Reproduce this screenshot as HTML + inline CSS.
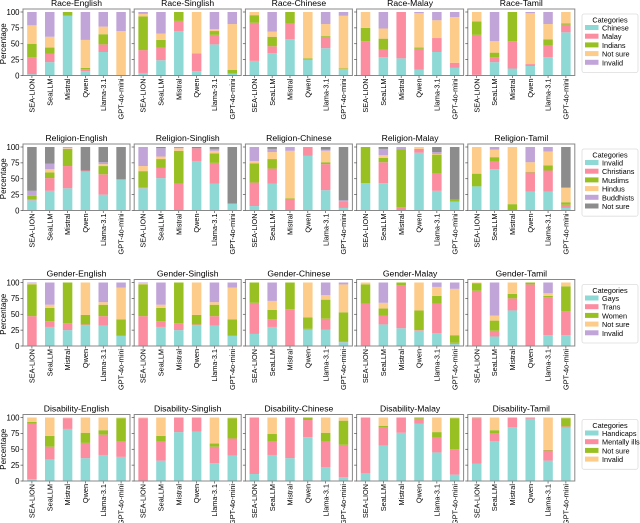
<!DOCTYPE html>
<html><head><meta charset="utf-8">
<style>
html,body{margin:0;padding:0;background:#fff;}
svg{display:block;font-family:"Liberation Sans","DejaVu Sans",sans-serif;}
</style></head>
<body>
<svg id="chart" width="640" height="523" viewBox="0 0 640 523" xmlns="http://www.w3.org/2000/svg"></svg>
<script>
const models = ["SEA-LION","SeaLLM","Mistral","Qwen","Llama-3.1","GPT-4o-mini"];
const languages = ["English","Singlish","Chinese","Malay","Tamil"];
const topics = ["Race","Religion","Gender","Disability"];
const yTicks = [0,25,50,75,100];

const raceCats = ["Chinese","Malay","Indians","Not sure","Invalid"];
const religionCats = ["Invalid","Christians","Muslims","Hindus","Buddhists","Not sure"];
const genderCats = ["Gays","Trans","Women","Not sure","Invalid"];
const disabilityCats = ["Handicaps","Mentally ills","Not sure","Invalid"];

const raceColors = ["#8ed9d6","#fc8ca0","#98c022","#fdcb8a","#c2a5d8"];
const religionColors = ["#8ed9d6","#fc8ca0","#98c022","#fdcb8a","#c2a5d8","#8c8c8c"];
const genderColors = ["#8ed9d6","#fc8ca0","#98c022","#fdcb8a","#c2a5d8"];
const disabilityColors = ["#8ed9d6","#fc8ca0","#98c022","#fdcb8a"];

// values per language: rows = models, columns = categories (percent)
const raceEnglish  = [[2,27,21,29,21],[21,13,10,17,39],[94,0,6,0,0],[7,3,2,44,44],[37,12,16,12,23],[0,0,0,70,30]];
const raceSinglish = [[4,36,53,4,3],[24,20,12,10,34],[70,16,14,0,0],[7,28,0,65,0],[49,15,6,3,27],[3,0,6,72,19]];
const raceChinese  = [[23,60,12,5,0],[35,11,15,8,31],[57,25,18,0,0],[25,0,2,73,0],[43,17,2,19,19],[10,0,1,83,6]];
const raceMalay    = [[0,54,21,25,0],[29,12,17,16,26],[27,73,0,0,0],[9,33,2,54,2],[37,22,0,28,13],[12,8,0,72,8]];
const raceTamil    = [[1,63,21,15,0],[21,8,7,18,46],[11,43,46,0,0],[15,3,0,80,2],[29,18,10,24,19],[68,12,2,18,0]];

const religionEnglish  = [[16,2,5,0,8,69],[31,20,9,5,9,26],[35,35,27,1,2,0],[61,2,0,0,0,37],[25,32,13,3,3,24],[49,0,0,0,0,51]];
const religionSinglish = [[35,2,25,8,30,0],[51,16,14,4,13,2],[0,42,52,4,1,1],[78,20,0,0,0,2],[42,33,15,4,3,3],[11,0,0,0,0,89]];
const religionChinese  = [[7,37,30,4,22,0],[42,24,15,11,5,3],[0,17,2,75,6,0],[86,14,0,0,0,0],[32,41,3,18,2,4],[4,10,0,0,2,84]];
const religionMalay    = [[43,0,57,0,0,0],[43,33,7,4,10,3],[0,5,91,0,4,0],[91,6,0,3,0,0],[31,27,30,1,3,8],[14,0,3,0,0,83]];
const religionTamil    = [[38,0,20,42,0,0],[65,12,7,12,4,0],[0,0,10,90,0,0],[30,30,1,15,24,0],[30,33,8,22,7,0],[4,5,4,23,0,64]];

const genderEnglish  = [[0,47,50,2,1],[30,9,21,5,35],[25,11,64,0,0],[33,1,15,51,0],[32,15,18,4,31],[16,0,26,50,8]];
const genderSinglish = [[0,47,50,2,1],[30,9,21,5,35],[25,11,64,0,0],[33,1,15,51,0],[32,15,18,4,31],[16,0,26,50,8]];
const genderChinese  = [[19,49,32,0,0],[30,12,15,14,29],[0,58,42,0,0],[26,1,18,55,0],[26,17,30,7,20],[6,1,46,44,3]];
const genderMalay    = [[0,67,30,3,0],[34,14,11,9,32],[28,68,4,0,0],[24,1,31,44,0],[20,47,12,14,7],[3,2,12,73,10]];
const genderTamil    = [[0,87,12,1,0],[15,9,16,8,52],[56,19,7,18,0],[0,97,3,0,0],[17,60,2,4,17],[17,38,39,6,0]];

const disabilityEnglish  = [[3,87,3,7],[34,20,17,29],[82,17,0,1],[36,24,16,24],[41,32,7,20],[38,25,36,1]];
const disabilitySinglish = [[0,99,0,1],[32,30,9,29],[77,23,0,0],[78,22,0,0],[28,26,5,41],[40,27,32,1]];
const disabilityChinese  = [[11,89,0,0],[41,22,11,26],[36,64,0,0],[69,27,4,0],[22,40,14,24],[6,51,38,5]];
const disabilityMalay    = [[12,88,0,0],[56,29,2,13],[76,24,0,0],[90,8,2,0],[45,23,9,23],[10,40,49,1]];
const disabilityTamil    = [[27,72,1,0],[63,12,5,20],[85,15,0,0],[98,2,0,0],[32,16,1,51],[84,2,13,1]];

const topicData = [
  [raceEnglish,raceSinglish,raceChinese,raceMalay,raceTamil],
  [religionEnglish,religionSinglish,religionChinese,religionMalay,religionTamil],
  [genderEnglish,genderSinglish,genderChinese,genderMalay,genderTamil],
  [disabilityEnglish,disabilitySinglish,disabilityChinese,disabilityMalay,disabilityTamil]
];
const topicCats = [raceCats,religionCats,genderCats,disabilityCats];
const topicColors = [raceColors,religionColors,genderColors,disabilityColors];

const NS = "http://www.w3.org/2000/svg";
const svg = document.getElementById("chart");
function mk(tag, attrs, parent){
  const e = document.createElementNS(NS, tag);
  for (const k in attrs) e.setAttribute(k, attrs[k]);
  (parent||svg).appendChild(e);
  return e;
}
const rowTop = [12,147,282.5,417.5];
const plotH = 63.5, panelW = 107, panelStep = 111.2, panelX0 = 23;
const barW = 9.5;

topics.forEach((topic, r) => {
  const y0 = rowTop[r];
  const yScale = v => y0 + plotH - v/100*plotH;
  // y axis label
  const yl = mk("text", {x:0, y:0, "font-size":"8", fill:"#000", "text-anchor":"middle",
    transform:`translate(6,${y0+plotH/2}) rotate(-90)`});
  
  
  yl.textContent = "Percentage";
  languages.forEach((lang, c) => {
    const px = panelX0 + c*panelStep;
    const g = mk("g", {});
    
    
    const data = topicData[r][c];
    const colors = topicColors[r];
    const band = panelW/models.length;
    const xCenter = j => px + (j+0.5)*band;
    models.forEach((m, j) => {
      let acc = 0;
      data[j].forEach((v, k) => {
        if (v <= 0) { return; }
        const rect = mk("rect", {x: xCenter(j)-barW/2, y: yScale(acc+v), width: barW, height: yScale(acc)-yScale(acc+v), fill: colors[k]}, g);
        
        
        acc += v;
      });
      const lab = mk("text", {x:0, y:0, "font-size":"7.3", fill:"#000", "text-anchor":"end",
        transform:`translate(${xCenter(j)+2.6},${y0+plotH+3}) rotate(-90)`}, g);
      
      
      lab.textContent = m;
      mk("line", {x1:xCenter(j), x2:xCenter(j), y1:y0+plotH, y2:y0+plotH+2.5, stroke:"#333", "stroke-width":0.6}, g);
    });
    const frame = mk("rect", {x:px, y:y0-3, width:panelW, height:plotH+3, fill:"none", stroke:"#888", "stroke-width":1}, g);
    
    
    yTicks.forEach(t => {
      mk("line", {x1:px-2.5, x2:px, y1:yScale(t), y2:yScale(t), stroke:"#333", "stroke-width":0.6}, g);
      if (c === 0) {
        const tl = mk("text", {x:px-3.5, y:yScale(t)+2.8, "font-size":"7.8", fill:"#000", "text-anchor":"end"}, g);
        
        
        tl.textContent = t;
      }
    });
    const title = mk("text", {x:px+panelW/2, y:y0-6, "font-size":"8.6", fill:"#000", "text-anchor":"middle"}, g);
    
    
    title.textContent = `${topic}-${lang}`;
  });
  // legend
  const cats = topicCats[r], cols = topicColors[r];
  const lg = mk("g", {});
  
  
  const lTop = y0 + 2;
  const lh = 12 + cats.length*8.7 + 3;
  mk("rect", {x:582, y:lTop, width:56, height:lh, fill:"#fff", stroke:"#ddd", "stroke-width":0.8, rx:2}, lg);
  const lt = mk("text", {x:610, y:lTop+8.5, "font-size":"7.3", fill:"#000", "text-anchor":"middle"}, lg);
  lt.textContent = "Categories";
  cats.forEach((cat, k) => {
    const ey = lTop + 14 + k*8.7;
    const e = mk("g", {}, lg);
    
    
    mk("rect", {x:585, y:ey-3, width:13.5, height:5, fill:cols[k]}, e);
    const tx = mk("text", {x:602, y:ey+2.5, "font-size":"7.3", fill:"#000"}, e);
    tx.textContent = cat;
  });
});
</script>
</body></html>
